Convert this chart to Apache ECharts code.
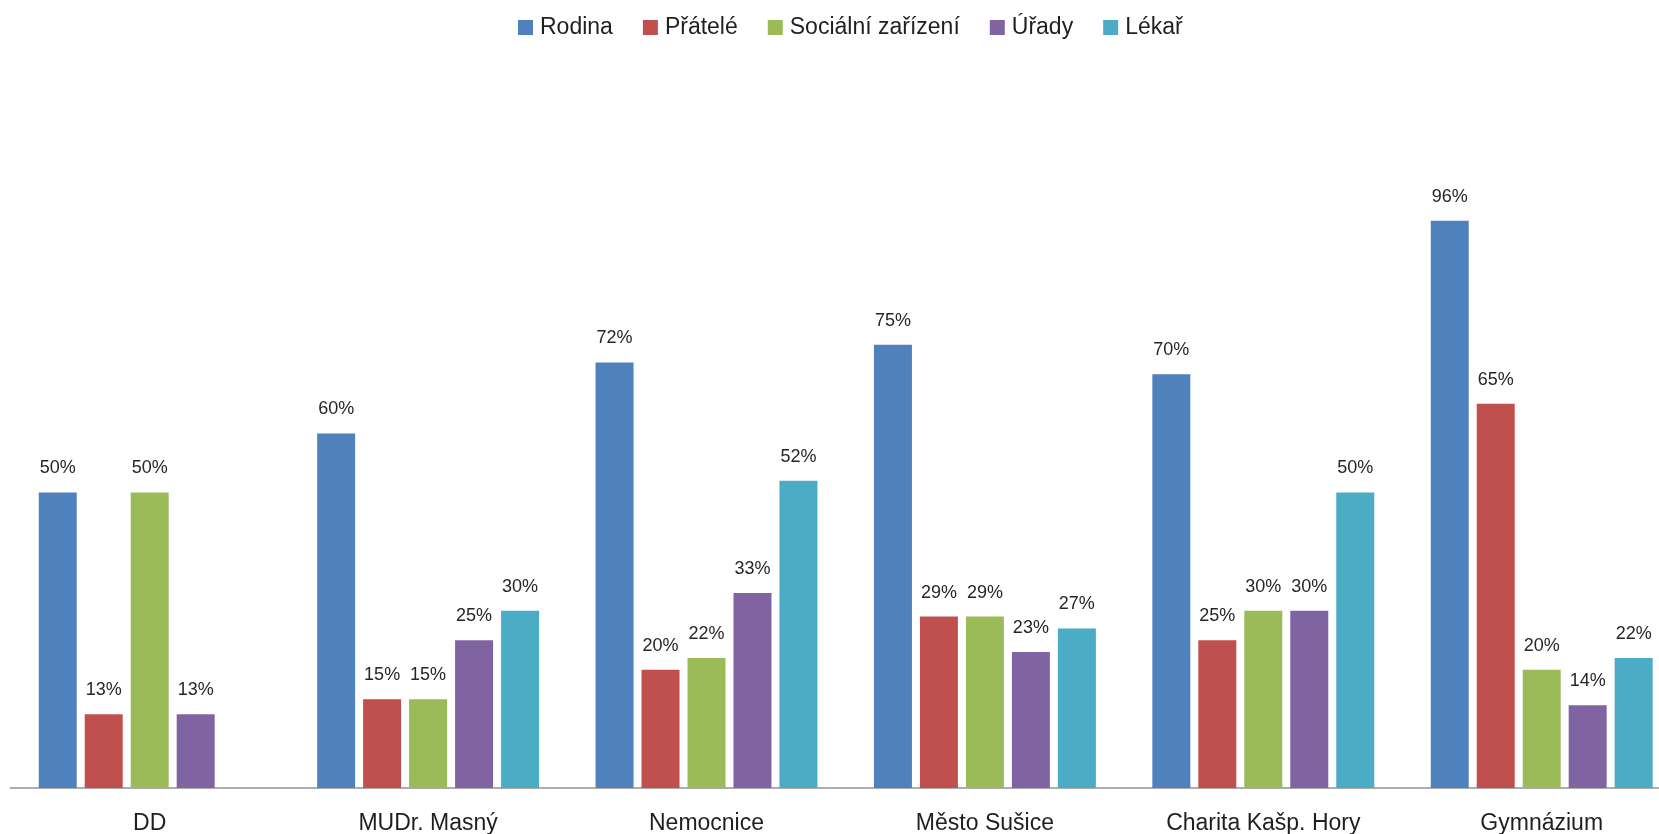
<!DOCTYPE html>
<html>
<head>
<meta charset="utf-8">
<script src="https://cdn.jsdelivr.net/npm/echarts@6/dist/echarts.min.js"></script>
<style>
html,body{margin:0;padding:0;background:#fff;}
#chart{width:1659px;height:834px;}
</style>
</head>
<body>
<div id="chart"></div>
<script>
const categories = ['DD', 'MUDr. Masný', 'Nemocnice', 'Město Sušice', 'Charita Kašp. Hory', 'Gymnázium'];
const seriesNames = ['Rodina', 'Přátelé', 'Sociální zařízení', 'Úřady', 'Lékař'];
const rodina   = [0.50, 0.60, 0.72, 0.75, 0.70, 0.96];
const pratele  = [0.125, 0.15, 0.20, 0.29, 0.25, 0.65];
const socialni = [0.50, 0.15, 0.22, 0.29, 0.30, 0.20];
const urady    = [0.125, 0.25, 0.33, 0.23, 0.30, 0.14];
const lekar    = [null, 0.30, 0.52, 0.27, 0.50, 0.22];
const colors = ['#4F81BD', '#C0504D', '#9BBB59', '#8064A2', '#4BACC6'];

const allData = [rodina, pratele, socialni, urady, lekar];
const FONT = '"Liberation Sans", Arial, sans-serif';

const chart = echarts.init(document.getElementById('chart'));
chart.setOption({
  animation: false,
  color: colors,
  textStyle: { fontFamily: FONT },
  legend: {
    top: 11,
    left: 513,
    itemWidth: 15,
    itemHeight: 15,
    itemGap: 30,
    icon: 'rect',
    textStyle: { fontSize: 23, color: '#1f1f1f', fontFamily: FONT, padding: [0, 0, 0, 2] },
    data: seriesNames
  },
  grid: { left: 10.5, width: 1670.4, top: 197, bottom: 46, containLabel: false, outerBoundsMode: 'none' },
  xAxis: {
    type: 'category',
    data: categories,
    axisLine: { show: true, lineStyle: { color: '#ADADAD', width: 2 } },
    axisTick: { show: false },
    axisLabel: { fontSize: 23, color: '#1f1f1f', margin: 24, fontFamily: FONT }
  },
  yAxis: {
    type: 'value',
    min: 0,
    max: 1,
    show: false,
    splitLine: { show: false }
  },
  series: seriesNames.map((name, i) => ({
    name: name,
    type: 'bar',
    data: allData[i],
    barWidth: 38,
    barGap: '21%',
    itemStyle: { color: colors[i] },
    label: {
      show: true,
      position: 'top',
      distance: 15,
      fontSize: 18,
      color: '#262626',
      fontFamily: FONT,
      formatter: p => (p.value == null ? '' : Math.round(p.value * 100) + '%')
    }
  }))
});
</script>
</body>
</html>
